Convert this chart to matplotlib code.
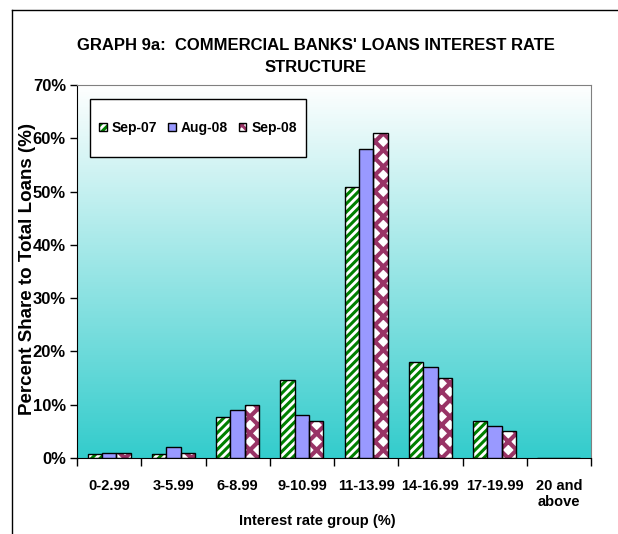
import numpy as np
import matplotlib
matplotlib.use("Agg")
import matplotlib.pyplot as plt
from matplotlib.patches import Patch, Rectangle
from matplotlib.lines import Line2D
from matplotlib.colors import LinearSegmentedColormap

plt.rcParams["font.family"] = ["Liberation Sans", "DejaVu Sans"]
plt.rcParams["hatch.linewidth"] = 2.2

# ============ data ============
groups = ["0-2.99", "3-5.99", "6-8.99", "9-10.99", "11-13.99",
          "14-16.99", "17-19.99", "20 and\nabove"]
series = ["Sep-07", "Aug-08", "Sep-08"]
sep07 = [0.7, 0.8, 7.7, 14.6, 50.9, 18.0, 7.0, 0.0]
aug08 = [1.0, 2.0, 9.0, 8.0, 58.0, 17.0, 6.0, 0.0]
sep08 = [1.0, 1.0, 10.0, 7.0, 61.0, 15.0, 5.0, 0.0]

# style per series: (face, hatch colour, hatch, hatch lw)
styles = [("white", "#008000", "////", 2.2),
          ("#9999FF", None, None, 1.0),
          ("white", "#993366", "xx", 3.0)]

fig = plt.figure(figsize=(6.18, 5.34), dpi=100)
ax = fig.add_axes([77/618, 76/534, 514/618, 373/534])

# gradient background
cmap = LinearSegmentedColormap.from_list("bg", ["#33CCCC", "#FFFFFF"])
grad = np.linspace(0, 1, 256).reshape(-1, 1)
ax.imshow(grad, cmap=cmap, aspect="auto", extent=[0, 1, 0, 1],
          transform=ax.transAxes, origin="lower", zorder=0)

x = np.arange(len(groups))
w = 0.223
handles = []
for i, (vals, (face, hc, hatch, hlw)) in enumerate(zip([sep07, aug08, sep08], styles)):
    pos = x + (i - 1) * w
    with plt.rc_context({"hatch.linewidth": hlw}):
        if hatch:
            ax.bar(pos, vals, w, color=face, edgecolor=hc, hatch=hatch, lw=0, zorder=2)
            ax.bar(pos, vals, w, fill=False, edgecolor="black", lw=1, zorder=3)
            h = (Patch(facecolor=face, edgecolor=hc, hatch=hatch, lw=0),
                 Patch(fill=False, edgecolor="black", lw=1))
        else:
            ax.bar(pos, vals, w, color=face, edgecolor="black", lw=1, zorder=3)
            h = Patch(facecolor=face, edgecolor="black", lw=1)
    handles.append(h)

ax.set_xlim(-0.5, len(groups) - 0.5)
ax.set_ylim(0, 70)
ax.set_yticks(np.arange(0, 71, 10))
ax.set_yticklabels([f"{v}%" for v in range(0, 71, 10)], fontsize=12, fontweight="bold")
ax.tick_params(axis="y", direction="out", length=5, width=1, pad=3)

ax.set_xticks(np.arange(-0.5, len(groups), 1))
ax.set_xticklabels([])
ax.tick_params(axis="x", which="major", direction="out", length=6, width=1)
ax.set_xticks(x, minor=True)
ax.set_xticklabels(groups, minor=True, fontsize=10.5, fontweight="bold")
ax.tick_params(axis="x", which="minor", length=0, pad=15)

for s in ["top", "right"]:
    ax.spines[s].set_color("#808080")

ax.set_xlabel("Interest rate group (%)", fontsize=10.5, fontweight="bold")
ax.xaxis.set_label_coords(0.467, -0.150)
ax.set_ylabel("Percent Share to Total Loans (%)", fontsize=13.5, fontweight="bold")
ax.yaxis.set_label_coords(-0.080, 0.506)

# legend: white box + borderless legend entries
ax.add_patch(Rectangle((13/514, 301/373), 216/514, 58/373, transform=ax.transAxes,
                       facecolor="white", edgecolor="black", lw=1, zorder=4))
leg = ax.legend(handles, series, loc="center left", bbox_to_anchor=(22/514, 330/373),
                ncol=3, frameon=False, borderpad=0, borderaxespad=0,
                columnspacing=0.8, handlelength=0.55, handleheight=0.55,
                handletextpad=0.35, prop={"weight": "bold", "size": 10})
leg.set_zorder(5)

fig.text(316/618, 1 - 45/534, "GRAPH 9a:  COMMERCIAL BANKS' LOANS INTEREST RATE",
         ha="center", va="center", fontsize=12, fontweight="bold")
fig.text(316/618, 1 - 67/534, "STRUCTURE",
         ha="center", va="center", fontsize=12, fontweight="bold")

# outer chart frame
fig.add_artist(Line2D([12/618, 12/618], [0, 1 - 10/534], color="black", lw=1,
                      transform=fig.transFigure))
fig.add_artist(Line2D([12/618, 1], [1 - 10/534, 1 - 10/534], color="black", lw=1,
                      transform=fig.transFigure))

fig.savefig("out.png", dpi=100, facecolor="white")
